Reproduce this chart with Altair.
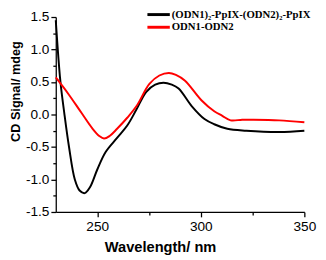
import altair as alt
import pandas as pd

s1 = "(ODN1)₂-PpIX-(ODN2)₂-PpIX"
s2 = "ODN1-ODN2"

wl_black = [230, 232.2, 234.2, 236.4, 239.2, 241.5, 244, 246.5, 250, 254, 259.6, 264.5, 269,
            273.7, 278, 282, 286, 289.3, 295.6, 301.8, 306.5, 312.8, 322, 338, 350]
cd_black = [1.45, 0.52, 0.0, -0.5, -1.0, -1.17, -1.21, -1.12, -0.85, -0.58, -0.36, -0.17, 0.08,
            0.35, 0.46, 0.49, 0.46, 0.40, 0.13, -0.07, -0.15, -0.22, -0.25, -0.27, -0.25]

wl_red = [230, 236, 242.3, 247.8, 251, 253.3, 256, 259.6, 264.5, 269, 275.2, 280, 284.6, 288,
          292.4, 300.3, 306.5, 310.4, 314.4, 320, 325.3, 337.8, 350]
cd_red = [0.57, 0.32, 0.03, -0.22, -0.33, -0.37, -0.33, -0.22, -0.05, 0.13, 0.47, 0.60, 0.64, 0.61,
          0.52, 0.22, 0.05, -0.02, -0.09, -0.08, -0.08, -0.09, -0.12]

x_ticks = [250, 275, 300, 325, 350]
y_ticks = [-1.5, -1.25, -1.0, -0.75, -0.5, -0.25, 0.0, 0.25, 0.5, 0.75, 1.0, 1.25, 1.5]

df = pd.concat([
    pd.DataFrame({"wl": wl_black, "cd": cd_black, "s": s1}),
    pd.DataFrame({"wl": wl_red, "cd": cd_red, "s": s2}),
])

y_major = "abs(datum.value*2-round(datum.value*2))<0.01"
x_major = "datum.value % 50 == 0"
y_lab = y_major + " ? replace(format(datum.value,'.1f'),'\u2212','-') : ''"
x_lab = x_major + " ? format(datum.value,'d') : ''"

xs = alt.Scale(domain=[230, 350], nice=False, zero=False)
ys = alt.Scale(domain=[-1.5, 1.5], nice=False, zero=False)

chart = alt.Chart(df).mark_line(strokeWidth=2, interpolate="catmull-rom").encode(
    x=alt.X("wl:Q", scale=xs, axis=alt.Axis(
        values=x_ticks, labelExpr=x_lab, title="Wavelength/ nm",
        tickSize={"condition": {"test": x_major, "value": 5}, "value": 3},
        labelPadding=3, titleX=107, titleY=29,
        titleFontSize=15, titleFont="Liberation Sans", titleFontWeight="bold",
        labelFont="Liberation Sans", labelFontSize=14, labelColor="black", domainColor="black",
        tickColor="black", grid=False, domainWidth=1.3, tickWidth=1.3)),
    y=alt.Y("cd:Q", scale=ys, axis=alt.Axis(
        values=y_ticks, labelExpr=y_lab, title="CD Signal/ mdeg",
        tickSize={"condition": {"test": y_major, "value": 5}, "value": 3},
        labelPadding=2, titleFontSize=13, titleFont="Liberation Sans",
        titleX=-34, titleY=76, titleBaseline="bottom",
        titleFontWeight="bold", labelFont="Liberation Sans", labelFontSize=14,
        labelColor="black", domainColor="black", tickColor="black", grid=False,
        domainWidth=1.3, tickWidth=1.3)),
    color=alt.Color("s:N", scale=alt.Scale(domain=[s1, s2], range=["black", "red"]),
                    legend=alt.Legend(title=None, orient="none", legendX=100, legendY=-8,
                                      symbolType="M-4,0L4,0", symbolStrokeWidth=3, symbolSize=33,
                                      labelFont="Liberation Serif", labelFontWeight="bold",
                                      labelFontSize=11, labelColor="black", rowPadding=0,
                                      labelOffset=8)),
).properties(
    width=255, height=200,
    autosize=alt.AutoSizeParams(type="none"),
    padding={"left": 49, "top": 6, "right": 14, "bottom": 46},
).configure_view(stroke=None).configure_axis(labelFlush=False, labelOverlap=False)

chart.save("out.html", embed_options={"renderer": "svg", "actions": False})
